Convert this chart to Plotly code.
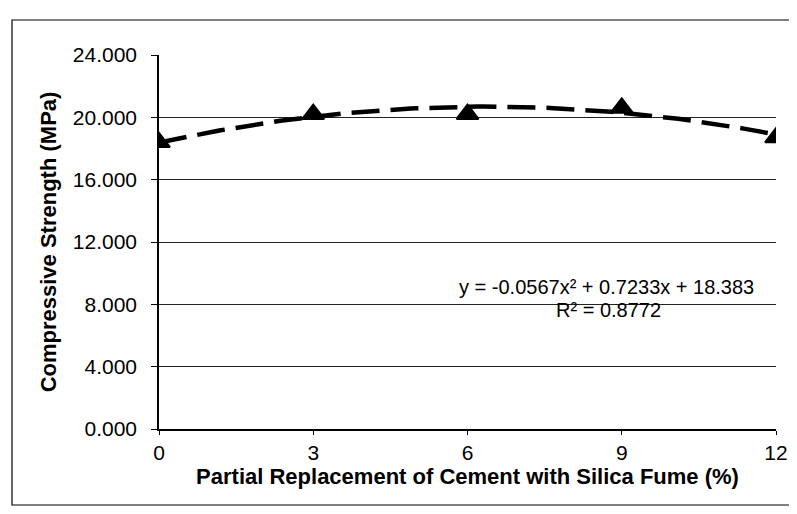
import numpy as np
import plotly.graph_objects as go

# Data
replacement_pct = [0, 3, 6, 9, 12]
strength_mpa = [18.4, 20.2, 20.2, 20.6, 18.7]

# Trendline coefficients as printed on the chart (a*x^2 + b*x + c)
trend_coef = [-0.0567, 0.7233, 18.383]
r_squared = 0.8772

y_ticks = [0, 4, 8, 12, 16, 20, 24]
x_ticks = [0, 3, 6, 9, 12]

xs = np.linspace(0, 12, 121)
ys = np.polyval(trend_coef, xs)

# The page body has an 8px margin, so figure coords = screen coords - 8
OFF = 8
W, H = 797, 514
L, R, T, B = 159 - OFF, 21 + OFF, 55 - OFF, 85 + OFF
pw, ph = W - L - R, H - T - B

def px_x(p):
    return (p - OFF - L) / pw

def px_y(p):
    return (H - B - (p - OFF)) / ph

fig = go.Figure()
fig.add_trace(go.Scatter(
    x=xs, y=ys, mode="lines",
    line=dict(color="black", width=4.5, dash="28px,11px"),
    hoverinfo="skip", showlegend=False,
))
fig.add_trace(go.Scatter(
    x=replacement_pct, y=strength_mpa, mode="markers",
    marker=dict(symbol="triangle-up", size=19, color="black",
                line=dict(color="black", width=2)),
    showlegend=False,
))

font = "Liberation Sans, Arial, sans-serif"
eq_text = "y = {:.4f}x² + {:.4f}x + {:.3f}".format(*trend_coef)
fig.add_annotation(x=px_x(606), y=px_y(287), xref="paper", yref="paper",
                   xanchor="center", yanchor="middle",
                   text=eq_text, showarrow=False,
                   font=dict(family=font, size=20, color="black"))
fig.add_annotation(x=px_x(608), y=px_y(310), xref="paper", yref="paper",
                   xanchor="center", yanchor="middle",
                   text="R² = {:.4f}".format(r_squared), showarrow=False,
                   font=dict(family=font, size=20, color="black"))

fig.add_shape(type="rect", xref="paper", yref="paper",
              x0=px_x(12), x1=px_x(790), y0=px_y(505), y1=px_y(20),
              line=dict(color="black", width=1.2), layer="below")

fig.update_layout(
    width=W, height=H,
    margin=dict(l=L, r=R, t=T, b=B),
    paper_bgcolor="white", plot_bgcolor="white",
    font=dict(family=font, color="black"),
    xaxis=dict(
        range=[0, 12], tickvals=x_ticks, ticktext=[str(v) for v in x_ticks],
        showgrid=False, zeroline=False,
        showline=True, linecolor="black", linewidth=1.5,
        ticks="outside", ticklen=4, tickcolor="black",
        tickfont=dict(size=21, family=font),
        title=dict(text="<b>Partial Replacement of Cement with Silica Fume (%)</b>",
                   font=dict(size=22, family=font), standoff=4),
    ),
    yaxis=dict(
        range=[0, 24], tickvals=y_ticks, tickformat=".3f",
        showgrid=True, gridcolor="#222", gridwidth=1,
        zeroline=False,
        showline=True, linecolor="black", linewidth=1.5,
        ticks="outside", ticklen=6, tickcolor="black",
        ticklabelstandoff=10,
        tickfont=dict(size=21, family=font),
        title=dict(text="<b>Compressive Strength (MPa)</b>",
                   font=dict(size=22, family=font), standoff=10),
    ),
)

fig.write_html("out.html")
